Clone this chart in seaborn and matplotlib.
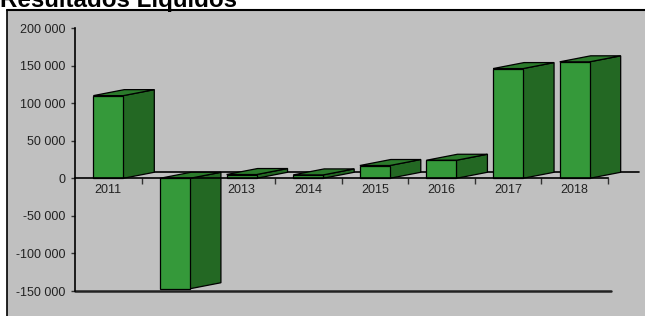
import numpy as np
import pandas as pd
import seaborn as sns
import matplotlib.pyplot as plt
from matplotlib.lines import Line2D
from matplotlib.patches import Polygon
from matplotlib.ticker import FuncFormatter, FixedLocator

# data
years = ["2011", "2012", "2013", "2014", "2015", "2016", "2017", "2018"]
resultados = [110000, -147000, 5000, 4500, 17000, 24000, 146000, 155000]
y_ticks = [-150000, -100000, -50000, 0, 50000, 100000, 150000, 200000]

front_col = "#35993a"
side_col = "#236823"
top_col = "#2b7a2b"
panel_col = "#c0c0c0"

sns.set_style("white")
plt.rcParams["font.family"] = ["Liberation Sans", "DejaVu Sans"]

W, H = 645, 316
fig = plt.figure(figsize=(W / 100, H / 100), dpi=100)
fig.patch.set_facecolor("white")

# panel (gray box) in pixel terms
px_l, px_t = 7, 10
ax = fig.add_axes([px_l / W, 0, (W - px_l) / W, (H - px_t) / H])
ax.set_facecolor(panel_col)

df = pd.DataFrame({"ano": years, "valor": resultados})
sns.barplot(data=df, x="ano", y="valor", color=front_col, saturation=1,
            width=0.45, edgecolor="black", linewidth=0.9, ax=ax, zorder=3)

# axis placement: categories -0.5..7.5 between px 75 and 608,
# values 200000 at px 28 and -150000 at px 291
x_per_px = 8 / (608 - 75)
y_per_px = 350000 / (291 - 28)
ax.set_xlim(-0.5 - (75 - px_l) * x_per_px, 7.5 + (W - 608) * x_per_px)
ax.set_ylim(-150000 - (H - 291) * y_per_px, 200000 + (28 - px_t) * y_per_px)

# 3d depth
dx = 31 * x_per_px
dy = 6 * y_per_px
for p in list(ax.patches):
    x0 = p.get_x()
    x1 = x0 + p.get_width()
    v = p.get_height()
    lo, hi = min(0, v), max(0, v)
    side = Polygon([(x1, lo), (x1, hi), (x1 + dx, hi + dy), (x1 + dx, lo + dy)],
                   closed=True, facecolor=side_col, edgecolor="black", lw=0.9, zorder=2.9)
    top = Polygon([(x0, hi), (x1, hi), (x1 + dx, hi + dy), (x0 + dx, hi + dy)],
                  closed=True, facecolor=top_col, edgecolor="black", lw=0.9, zorder=2.9)
    ax.add_patch(side)
    ax.add_patch(top)

# back zero line and floor line
ax.plot([-0.5 + dx, 7.5 + dx], [dy, dy], color="black", lw=1.2, zorder=1)
ax.plot([-0.5, 7.55], [-150000, -150000], color="#222222", lw=1.8, zorder=2)

# axes
for s in ["top", "right"]:
    ax.spines[s].set_visible(False)
ax.spines["left"].set_position(("data", -0.5))
ax.spines["left"].set_bounds(-150000, 200000)
ax.spines["bottom"].set_position(("data", 0))
ax.spines["bottom"].set_bounds(-0.5, 7.5)
for s in ["left", "bottom"]:
    ax.spines[s].set_color("black")
    ax.spines[s].set_linewidth(1.2)
    ax.spines[s].set_zorder(4)

ax.set_yticks(y_ticks)
ax.yaxis.set_major_formatter(FuncFormatter(lambda v, _: f"{v:,.0f}".replace(",", " ")))
ax.tick_params(axis="y", direction="out", length=3, width=1, color="#333333",
               labelsize=9, labelcolor="#222222", pad=4, left=True)

ax.xaxis.set_major_locator(FixedLocator(np.arange(0.5, 8, 1)))
ax.xaxis.set_minor_locator(FixedLocator(np.arange(0, 8, 1)))
ax.xaxis.set_major_formatter(FuncFormatter(lambda v, _: ""))
ax.xaxis.set_minor_formatter(FuncFormatter(lambda v, _: years[int(round(v))]))
ax.tick_params(axis="x", which="major", direction="out", length=4, width=1,
               color="#333333", bottom=True)
ax.tick_params(axis="x", which="minor", length=0, labelsize=9,
               labelcolor="#222222", pad=4)
ax.set_xlabel("")
ax.set_ylabel("")

# panel border (top and left)
fig.add_artist(Line2D([px_l / W, 1], [1 - px_t / H, 1 - px_t / H], color="black", lw=1.5))
fig.add_artist(Line2D([px_l / W, px_l / W], [0, 1 - px_t / H], color="black", lw=1.2))

# title, cropped at the top as in the source image
fig.text(0.0, 1 - 7 / H, "Resultados Líquidos", fontsize=17.4, fontweight="bold",
         color="black", ha="left", va="baseline")

fig.savefig("out.png", dpi=100)
